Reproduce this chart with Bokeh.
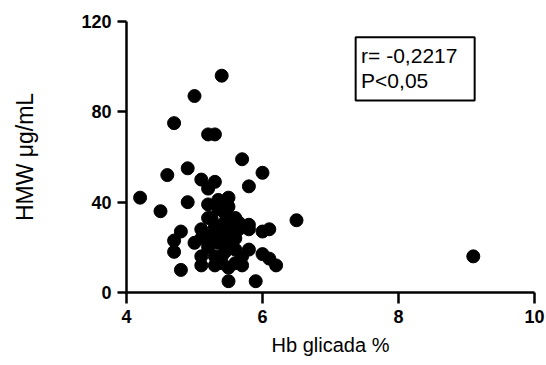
from bokeh.plotting import figure
from bokeh.models import Range1d, FixedTicker, Label, BoxAnnotation
from bokeh.embed import file_html
from bokeh.resources import INLINE

hb_glicada = [4.2, 4.5, 4.6, 4.7, 4.9, 5.0, 5.4, 5.2, 5.3, 5.7, 6.0, 5.8, 4.9, 5.1,
              5.2, 5.2, 5.2, 5.3, 5.5, 5.35, 5.25, 5.5, 5.6, 5.8, 6.5, 9.1, 4.8, 4.7,
              4.7, 4.8, 5.0, 5.1, 5.1, 5.1, 5.2, 5.2, 5.8, 6.0, 6.1, 5.8, 6.0, 6.1,
              6.2, 5.5, 5.9, 5.6, 5.5, 5.7, 5.3, 5.45, 5.6, 5.45, 5.3, 5.65, 5.65, 5.4,
              5.35, 5.5, 5.4, 5.3, 5.4, 5.6, 5.5, 5.35, 5.45, 5.1, 5.7, 5.4, 5.5, 5.3]
hmw = [42, 36, 52, 75, 55, 87, 96, 70, 70, 59, 53, 47, 40, 50,
       46, 39, 33, 49, 42, 41, 33, 33, 33, 30, 32, 16, 27, 23,
       18, 10, 22, 28, 12, 16, 20, 25, 28, 27, 28, 19, 17, 15,
       12, 5, 5, 13, 11, 12, 12, 18, 19, 25, 24, 28, 31, 30,
       22, 22, 16, 16, 27, 24, 28, 37, 35, 24, 16, 13, 38, 29]

x_ticks = [4, 6, 8, 10]
y_ticks = [0, 40, 80, 120]
stats_lines = ["r= -0,2217", "P<0,05"]

FONT = "Liberation Sans"

p = figure(width=546, height=365, output_backend="svg", toolbar_location=None,
           x_range=Range1d(4, 10), y_range=Range1d(0, 120),
           min_border_left=126, min_border_right=12, min_border_top=21, min_border_bottom=73)
p.outline_line_color = None
p.grid.visible = False

p.scatter(hb_glicada, hmw, size=13, color="black", line_color="black")

for ax in (p.xaxis[0], p.yaxis[0]):
    ax.axis_line_width = 2.5
    ax.major_tick_line_width = 2.5
    ax.minor_tick_line_color = None
    ax.major_tick_in = 0
    ax.major_label_text_font = FONT
    ax.major_label_text_font_style = "bold"
    ax.major_label_text_font_size = "18px"
    ax.major_label_text_color = "black"
    ax.axis_label_text_font = FONT
    ax.axis_label_text_font_style = "normal"
    ax.axis_label_text_color = "black"

p.xaxis.ticker = FixedTicker(ticks=x_ticks)
p.yaxis.ticker = FixedTicker(ticks=y_ticks)
p.xaxis.major_tick_out = 11
p.yaxis.major_tick_out = 9
p.xaxis.major_label_standoff = 6
p.yaxis.major_label_standoff = 6
p.xaxis.axis_label = "Hb glicada %"
p.yaxis.axis_label = "HMW μg/mL"
p.xaxis.axis_label_text_font_size = "20px"
p.yaxis.axis_label_text_font_size = "23px"
p.xaxis.axis_label_standoff = 8
p.yaxis.axis_label_standoff = 40

box = BoxAnnotation(left=7.37, right=9.12, bottom=85, top=113,
                    fill_color=None, fill_alpha=0, line_color="black", line_alpha=1.0, line_width=2)
p.add_layout(box)
for i, t in enumerate(stats_lines):
    p.add_layout(Label(x=7.45, y=[105, 94][i], text=t, text_font=FONT,
                       text_font_size="21px", text_baseline="middle", text_color="black"))

open("out.html", "w").write(file_html(p, INLINE))
